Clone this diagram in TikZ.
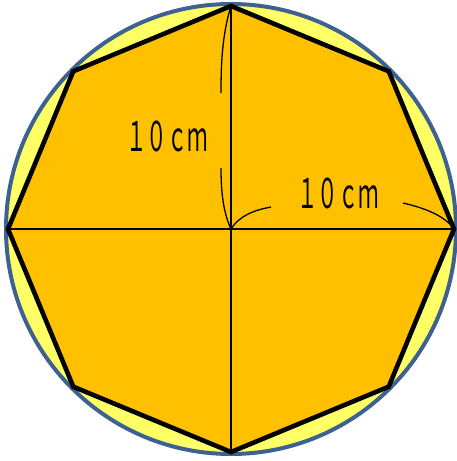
\documentclass[tikz,border=0pt]{standalone}
\usepackage{fontspec}
\newfontfamily\jpfont{Noto Sans CJK JP}
\definecolor{rimblue}{HTML}{3D6190}
\definecolor{paleyellow}{HTML}{FFFF66}
\definecolor{octorange}{HTML}{FFC000}
\tikzset{
  rim/.style={draw=rimblue, line width=4pt, fill=paleyellow},
  octa/.style={draw=black, line width=4.6pt, fill=octorange, line join=miter},
  axis/.style={draw=black, line width=1.3pt},
  brace/.style={draw=black, line width=1.3pt},
  lengthlabel/.style={font=\jpfont\fontsize{41}{41}\selectfont, xscale=0.5, inner sep=0pt}
}
\begin{document}
\begin{tikzpicture}[x=1pt, y=-1pt]
    \useasboundingbox (0,0) rectangle (457,461);

    \coordinate (O) at (231,229);

    % circle and octagon
    \draw[rim] (O) circle [radius=225];
    \draw[octa] (231,6) -- (388.7,71.3) -- (454,229) -- (388.7,386.7) -- (231,452)
        -- (73.3,386.7) -- (8,229) -- (73.3,71.3) -- cycle;

    % diameters
    \coordinate (top) at (231,6);
    \coordinate (bot) at (231,452);
    \coordinate (lft) at (8,229);
    \coordinate (rgt) at (454,229);
    \draw[axis] (top) -- (bot);
    \draw[axis] (lft) -- (rgt);

    % vertical brace
    \draw[brace] (top) .. controls (222,35) and (221,65) .. (221,93);
    \draw[brace] (221,168) .. controls (221,195) and (224,214) .. (O);
    \node[lengthlabel] (vlabel) at (167,136) {１０ｃｍ};

    % horizontal brace
    \draw[brace] (O) .. controls (240,215) and (255,210) .. (271,207);
    \draw[brace] (403,203) .. controls (425,208) and (445,216) .. (rgt);
    \node[lengthlabel] (hlabel) at (338,193) {１０ｃｍ};
\end{tikzpicture}
\end{document}
